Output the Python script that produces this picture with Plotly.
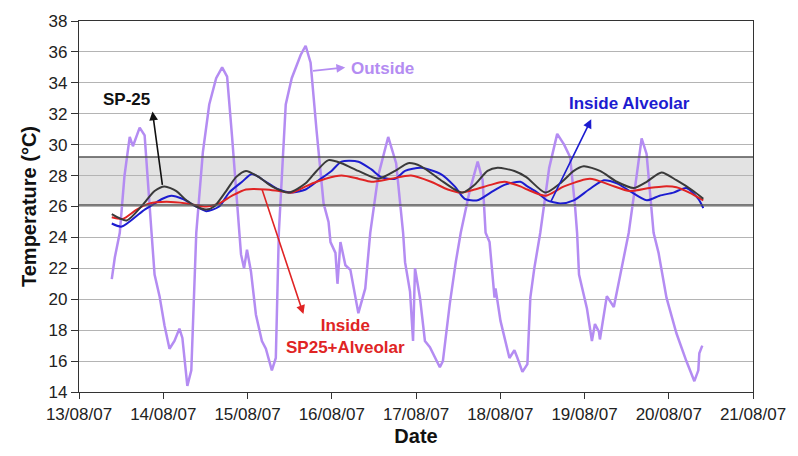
import pandas as pd
import plotly.graph_objects as go

# Start of the measurement period; all times below are fractional days after it
T0 = pd.Timestamp("2007-08-13")

# Outside air temperature (°C)
outside_days = [0.389, 0.425, 0.484, 0.540, 0.602, 0.640, 0.720, 0.779, 0.861, 0.897,
                0.956, 1.015, 1.074, 1.133, 1.192, 1.227, 1.286, 1.333, 1.392, 1.470,
                1.546, 1.628, 1.699, 1.758, 1.817, 1.900, 1.923, 1.959, 1.994, 2.041,
                2.100, 2.171, 2.218, 2.289, 2.336, 2.372, 2.454, 2.525, 2.631, 2.690,
                2.749, 2.820, 2.903, 2.962, 2.985, 3.044, 3.068, 3.103, 3.162, 3.221,
                3.316, 3.398, 3.457, 3.552, 3.670, 3.764, 3.847, 3.870, 3.929, 3.965,
                3.988, 4.047, 4.106, 4.165, 4.224, 4.283, 4.319, 4.401, 4.472, 4.531,
                4.637, 4.732, 4.791, 4.826, 4.873, 4.932, 4.944, 5.003, 5.109, 5.168,
                5.204, 5.263, 5.322, 5.357, 5.404, 5.475, 5.581, 5.676, 5.758, 5.829,
                5.888, 5.912, 5.935, 6.029, 6.088, 6.124, 6.171, 6.183, 6.265, 6.348,
                6.407, 6.478, 6.525, 6.619, 6.678, 6.737, 6.820, 6.879, 6.973, 7.091,
                7.209, 7.304, 7.351, 7.363, 7.398]
outside_temp = [21.3, 22.7, 24.3, 28.0, 30.5, 29.9, 31.1, 30.6, 24.3, 21.6,
                20.2, 18.3, 16.8, 17.3, 18.1, 17.5, 14.4, 15.4, 24.3, 29.5,
                32.6, 34.3, 35.0, 34.4, 30.5, 24.3, 22.9, 22.0, 23.2, 21.8,
                19.0, 17.3, 16.8, 15.4, 16.2, 24.3, 32.6, 34.3, 35.8, 36.4,
                35.3, 30.9, 26.2, 25.0, 23.7, 23.0, 21.0, 23.7, 22.2, 21.9,
                19.1, 20.7, 24.3, 28.0, 30.5, 28.8, 24.3, 22.4, 20.5, 17.3,
                22.0, 20.1, 17.3, 16.9, 16.2, 15.6, 16.0, 19.7, 22.4, 24.3,
                27.0, 28.9, 27.7, 24.3, 23.7, 20.1, 20.7, 18.6, 16.2, 16.7,
                16.2, 15.3, 15.8, 20.1, 22.0, 24.3, 28.5, 30.7, 30.0, 29.2,
                26.0, 24.3, 21.6, 19.4, 17.3, 18.4, 17.9, 17.4, 20.2, 19.5,
                21.1, 23.0, 24.3, 28.0, 30.4, 29.4, 24.3, 23.0, 20.1, 17.8,
                16.0, 14.7, 15.4, 16.5, 17.0]

# Inside temperature, SP-25 roof (°C)
sp25_days = [0.389, 0.566, 0.755, 0.897, 1.015, 1.156, 1.274, 1.392, 1.510, 1.605,
             1.746, 1.864, 1.982, 2.136, 2.289, 2.490, 2.690, 2.820, 2.962, 3.115,
             3.316, 3.552, 3.752, 3.906, 4.060, 4.295, 4.460, 4.555, 4.696, 4.849,
             4.968, 5.168, 5.310, 5.534, 5.711, 5.873, 5.991, 6.184, 6.384, 6.584,
             6.738, 6.914, 7.091, 7.292, 7.410]
sp25_temp = [25.5, 25.1, 26.1, 27.0, 27.3, 27.0, 26.4, 26.0, 25.8, 26.0,
             27.0, 27.9, 28.3, 27.9, 27.3, 26.9, 27.5, 28.3, 29.0, 28.8,
             28.3, 27.8, 28.3, 28.8, 28.6, 27.7, 27.1, 26.9, 27.4, 28.3,
             28.5, 28.3, 27.9, 26.9, 27.5, 28.3, 28.6, 28.3, 27.6, 27.2,
             27.6, 28.2, 27.7, 27.0, 26.5]

# Inside temperature, alveolar roof (°C)
alveolar_days = [0.389, 0.507, 0.755, 0.873, 0.991, 1.097, 1.227, 1.392, 1.510, 1.664,
                 1.782, 1.936, 2.053, 2.218, 2.371, 2.526, 2.690, 2.844, 2.997, 3.115,
                 3.316, 3.470, 3.587, 3.752, 3.870, 4.060, 4.295, 4.460, 4.578, 4.731,
                 4.885, 5.050, 5.239, 5.322, 5.440, 5.557, 5.711, 5.873, 6.053, 6.230,
                 6.384, 6.537, 6.738, 6.891, 7.056, 7.209, 7.351, 7.410]
alveolar_temp = [24.9, 24.7, 25.7, 26.1, 26.5, 26.7, 26.5, 26.0, 25.7, 26.0,
                 26.9, 27.6, 28.1, 27.6, 27.1, 26.9, 27.1, 27.7, 28.3, 28.9,
                 28.9, 28.4, 27.9, 27.8, 28.3, 28.5, 28.1, 27.3, 26.5, 26.4,
                 26.9, 27.4, 27.6, 27.3, 26.9, 26.4, 26.2, 26.4, 27.1, 27.7,
                 27.5, 27.0, 26.4, 26.7, 26.9, 27.2, 26.5, 25.9, 25.4]

# Inside temperature, SP25 + alveolar roof (°C)
combined_days = [0.389, 0.519, 0.684, 0.838, 1.038, 1.274, 1.510, 1.664, 1.818, 1.982,
                 2.218, 2.371, 2.526, 2.690, 2.820, 2.926, 3.115, 3.316, 3.469, 3.705,
                 3.941, 4.178, 4.378, 4.531, 4.696, 4.885, 5.050, 5.239, 5.322, 5.534,
                 5.758, 6.064, 6.301, 6.537, 6.773, 6.938, 7.091, 7.245, 7.410]
combined_temp = [25.3, 25.2, 25.8, 26.2, 26.3, 26.2, 26.0, 26.2, 26.7, 27.1,
                 27.1, 27.0, 26.9, 27.3, 27.6, 27.8, 28.0, 27.8, 27.6, 27.8,
                 28.0, 27.6, 27.1, 26.9, 27.1, 27.4, 27.6, 27.3, 27.1, 26.7,
                 27.3, 27.8, 27.4, 27.0, 27.2, 27.3, 27.25, 26.9, 26.4]

# Thermal comfort band (°C)
COMFORT_LOW = 26.1
COMFORT_HIGH = 29.2

# Axis ticks
x_tick_days = list(range(0, 9))
y_ticks = list(range(14, 39, 2))

FONT = "Liberation Sans, Arial, Helvetica, sans-serif"
PURPLE = "#b48cf2"
BLUE = "#1c1cd0"
RED = "#e02424"
DARK = "#3a3a3a"


def to_dates(days):
    return [T0 + pd.Timedelta(days=d) for d in days]


fig = go.Figure()

# Outside record is drawn as a plain polyline; the damped inside records are smoothed
series = [
    (outside_days, outside_temp, PURPLE, 2.5, "Outside", "linear"),
    (alveolar_days, alveolar_temp, BLUE, 2.0, "Inside Alveolar", "spline"),
    (combined_days, combined_temp, RED, 2.0, "Inside SP25+Alveolar", "spline"),
    (sp25_days, sp25_temp, DARK, 2.0, "SP-25", "spline"),
]
for days, temps, color, width, name, shape in series:
    line = dict(color=color, width=width, shape=shape)
    if shape == "spline":
        line["smoothing"] = 0.7
    fig.add_trace(go.Scatter(
        x=to_dates(days), y=temps, mode="lines", name=name,
        line=line, showlegend=False,
    ))

# Comfort band behind the data
fig.add_shape(type="rect", xref="x domain", yref="y", x0=0, x1=1,
              y0=COMFORT_LOW, y1=COMFORT_HIGH, layer="below",
              fillcolor="#e3e3e3", line=dict(width=0))
for yv in (COMFORT_LOW, COMFORT_HIGH):
    fig.add_shape(type="line", xref="x domain", yref="y", x0=0, x1=1,
                  y0=yv, y1=yv, layer="above",
                  line=dict(color="#555555", width=1.4))


def label(text, x, y, color, xanchor="center"):
    fig.add_annotation(text=text, x=x, y=y, xref="x domain", yref="y domain",
                       showarrow=False, xanchor=xanchor, yanchor="middle",
                       font=dict(family=FONT, size=17, color=color))


def arrow(tip, tail, color):
    fig.add_annotation(text="", x=tip[0], y=tip[1], ax=tail[0], ay=tail[1],
                       xref="x domain", yref="y domain",
                       axref="x domain", ayref="y domain",
                       showarrow=True, arrowhead=2, arrowsize=1.1,
                       arrowwidth=1.6, arrowcolor=color)


label("<b>SP-25</b>", 0.071, 0.788, "#111111")
arrow((0.109, 0.756), (0.124, 0.554), "#111111")

label("<b>Outside</b>", 0.400, 0.873, PURPLE, xanchor="left")
arrow((0.395, 0.875), (0.345, 0.865), PURPLE)

label("<b>Inside Alveolar</b>", 0.817, 0.777, BLUE)
arrow((0.760, 0.735), (0.699, 0.509), BLUE)

label("<b>Inside<br>SP25+Alveolar</b>", 0.396, 0.149, RED)
arrow((0.333, 0.210), (0.271, 0.549), RED)

fig.update_layout(
    width=798, height=456,
    margin=dict(l=79, r=41, t=15, b=64),
    paper_bgcolor="white", plot_bgcolor="white",
    font=dict(family=FONT, size=17, color="#222222"),
)
fig.update_xaxes(
    range=[T0, T0 + pd.Timedelta(days=8)],
    tickvals=to_dates(x_tick_days), tickformat="%d/%m/%y",
    ticks="outside", ticklen=6, tickcolor="#333333",
    showgrid=False, showline=True, linecolor="#333333", linewidth=1.2, mirror=True,
    tickfont=dict(size=17, color="#222222"),
    title=dict(text="<b>Date</b>", font=dict(size=20, color="#111111"), standoff=6),
)
fig.update_yaxes(
    range=[14, 38], tickvals=y_ticks,
    ticks="outside", ticklen=7, tickcolor="#333333",
    showgrid=True, gridcolor="#b4b4b4", gridwidth=1,
    showline=True, linecolor="#333333", linewidth=1.2, mirror=True,
    zeroline=False,
    tickfont=dict(size=17, color="#222222"),
    title=dict(text="<b>Temperature (°C)</b>", font=dict(size=20, color="#111111"), standoff=6),
)

fig.write_html("out.html")
